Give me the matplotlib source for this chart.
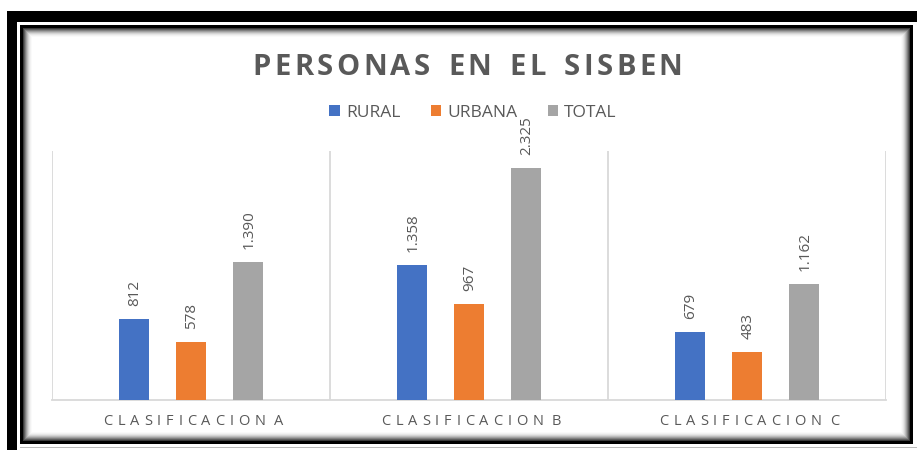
import matplotlib
matplotlib.use("Agg")
import matplotlib.pyplot as plt
from matplotlib.patches import Rectangle, Patch
from matplotlib.font_manager import FontProperties
import numpy as np

categories = ["CLASIFICACION A", "CLASIFICACION B", "CLASIFICACION C"]
series_names = ["RURAL", "URBANA", "TOTAL"]
rural = [812, 1358, 679]
urbana = [578, 967, 483]
total = [1390, 2325, 1162]
title = "PERSONAS EN EL SISBEN"

colors = ["#4472C4", "#ED7D31", "#A5A5A5"]
TXT = "#595959"
GRID = "#D9D9D9"
FONT = "Open Sans"

W, H = 917, 450
fig = plt.figure(figsize=(W / 100, H / 100), dpi=100)
fig.patch.set_facecolor("white")
renderer = fig.canvas.get_renderer()


def px(x, y):
    return x / W, 1 - y / H


def frect(x0, y0, x1, y1, **kw):
    (a, b) = px(x0, y1)
    r = Rectangle((a, b), (x1 - x0) / W, (y1 - y0) / H, transform=fig.transFigure, **kw)
    fig.add_artist(r)
    return r


def tracked_text(cx, base_y, s, size, weight, total_w, word_gap, color=TXT):
    """Draw s centred at cx (pixels from left), baseline base_y (pixels from top),
    with letter spacing chosen so the text spans total_w pixels."""
    prop = FontProperties(family=FONT, size=size, weight=weight)
    widths = []
    for ch in s:
        if ch == " ":
            widths.append(None)
        else:
            w, h, d = renderer.get_text_width_height_descent(ch, prop, ismath=False)
            widths.append(w)
    n_letters = sum(1 for w in widths if w is not None)
    n_words = s.count(" ")
    ink = sum(w for w in widths if w is not None)
    n_gaps = n_letters - 1 - n_words
    track = (total_w - ink - n_words * word_gap) / max(n_gaps, 1)
    x = cx - total_w / 2
    for ch, w in zip(s, widths):
        if w is None:
            x += word_gap - track
            continue
        fig.text(x / W, 1 - base_y / H, ch, ha="left", va="baseline",
                 fontproperties=prop, color=color)
        x += w + track


# outer thick black band (left + top)
frect(7, 11, 17, 450, facecolor="black", edgecolor="none", zorder=0)
frect(7, 11, 917, 22, facecolor="black", edgecolor="none", zorder=0)
# inner thin border
frect(20, 25, 913, 444, facecolor="black", edgecolor="none", zorder=0)
# shadow gradient inside
shades = ["#3a3a3a", "#5e5e5e", "#808080", "#a0a0a0", "#bcbcbc", "#d4d4d4", "#e6e6e6", "#f2f2f2", "#fafafa"]
for i, c in enumerate(shades):
    frect(23 + i, 28 + i, 910 - i, 441 - i, facecolor=c, edgecolor="none", zorder=0)
k = len(shades)
frect(23 + k, 28 + k, 910 - k, 441 - k, facecolor="white", edgecolor="none", zorder=0)
frect(20, 447, 917, 448, facecolor="#bbbbbb", edgecolor="none", zorder=0)

# axes
x0, x1, ytop, ybot = 52, 886, 151, 400
ax = fig.add_axes([x0 / W, 1 - ybot / H, (x1 - x0) / W, (ybot - ytop) / H])
ax.set_facecolor("none")
ax.set_xlim(-0.5, len(categories) - 0.5)
ax.set_ylim(0, 2500)

x = np.arange(len(categories))
offsets = [-0.205, 0.0, 0.205]
bw = 0.108
for vals, off, col in zip([rural, urbana, total], offsets, colors):
    ax.bar(x + off, vals, width=bw, color=col, zorder=3)
    for xi, v in zip(x + off, vals):
        lab = f"{v:,}".replace(",", ".")
        ax.annotate(lab, (xi, v), xytext=(1, 13), textcoords="offset pixels",
                    rotation=90, ha="center", va="bottom", color=TXT,
                    fontsize=11, family=FONT, zorder=4)

for b in np.arange(-0.5, len(categories), 1.0):
    ax.axvline(b, color=GRID, lw=1.3, zorder=1)
for s in ["top", "right", "left"]:
    ax.spines[s].set_visible(False)
ax.spines["bottom"].set_color(GRID)
ax.spines["bottom"].set_linewidth(1.3)
ax.set_yticks([])
ax.set_xticks(x)
ax.set_xticklabels([""] * len(categories))
ax.tick_params(axis="x", length=0)

# category labels with letter spacing
for i, c in enumerate(categories):
    disp_x = ax.transData.transform((i, 0))[0]
    tracked_text(disp_x + 2, 425, c, 10.5, "normal", 180, 8, color="#595959")

# title
tracked_text(467.5, 75, title, 21, "bold", 430, 18)

# legend
handles = [Patch(facecolor=c, edgecolor="none") for c in colors]
lx, ly = px(473, 113)
fig.legend(handles, series_names, loc="center", bbox_to_anchor=(lx, ly), ncol=3,
           frameon=False, prop={"family": FONT, "size": 12.5}, labelcolor=TXT,
           handlelength=0.6, handleheight=0.6, handletextpad=0.35, columnspacing=1.75)

fig.savefig("out.png", dpi=100, facecolor="white")
